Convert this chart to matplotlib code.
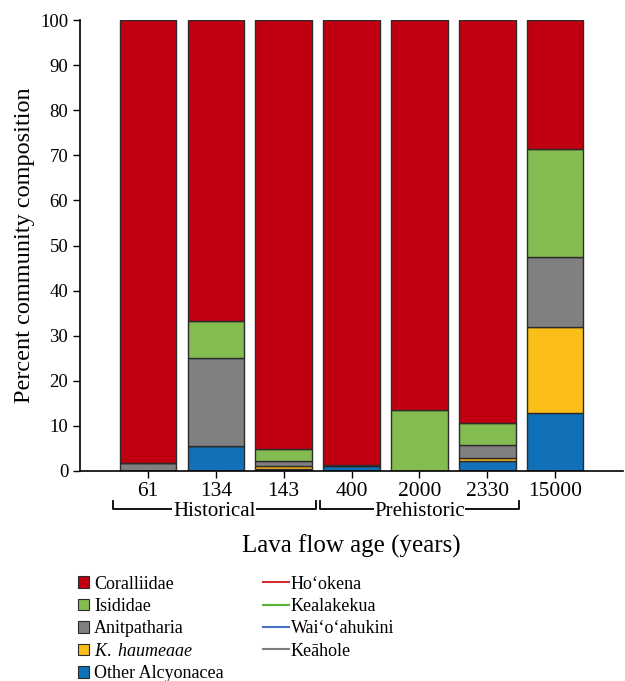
import matplotlib.pyplot as plt
from matplotlib.lines import Line2D
from matplotlib.patches import Patch
import numpy as np

plt.rcParams['font.family'] = ['Liberation Serif', 'DejaVu Serif']
plt.rcParams['mathtext.fontset'] = 'custom'
plt.rcParams['mathtext.it'] = 'Liberation Serif:italic'
plt.rcParams['mathtext.rm'] = 'Liberation Serif'

# Lava flow ages (years) and percent composition of each taxon
ages = ['61', '134', '143', '400', '2000', '2330', '15000']
other_alcyonacea = [0.0, 5.5, 0.4, 1.0, 0.0, 2.3, 12.8]
k_haumeaae = [0.0, 0.0, 0.6, 0.0, 0.0, 0.6, 19.1]
anitpatharia = [1.8, 19.5, 1.2, 0.4, 0.0, 2.8, 15.6]
isididae = [0.0, 8.3, 2.6, 0.0, 13.5, 4.9, 23.8]
coralliidae = [98.2, 66.7, 95.2, 98.6, 86.5, 89.4, 28.7]

taxa = ['Coralliidae', 'Isididae', 'Anitpatharia', 'K. haumeaae', 'Other Alcyonacea']
colors = {'Coralliidae': '#c00010', 'Isididae': '#84bc52', 'Anitpatharia': '#808080',
          'K. haumeaae': '#fbbd17', 'Other Alcyonacea': '#1070b8'}
stack = [('Other Alcyonacea', other_alcyonacea), ('K. haumeaae', k_haumeaae),
         ('Anitpatharia', anitpatharia), ('Isididae', isididae),
         ('Coralliidae', coralliidae)]

sites = ['Ho\u2018okena', 'Kealakekua', 'Wai\u2018o\u2018ahukini', 'Ke\u0101hole']
site_colors = ['#d03232', '#5cb336', '#4472c4', '#808080']

fig = plt.figure(figsize=(6.25, 6.81), dpi=100)
ax = fig.add_axes([0.128, 0.3084, 0.869, 0.6622])

x = np.arange(len(ages))
bottom = np.zeros(len(ages))
for name, vals in stack:
    ax.bar(x, vals, 0.83, bottom=bottom, color=colors[name],
           edgecolor='#2b2b2b', linewidth=1.0)
    bottom += np.array(vals)

ax.set_xlim(-1, 7)
ax.set_ylim(0, 100)
ax.set_yticks(np.arange(0, 101, 10))
ax.set_xticks(x)
ax.set_xticklabels(ages)
ax.tick_params(axis='both', direction='out', length=5, width=1)
ax.tick_params(axis='y', labelsize=13.5)
ax.tick_params(axis='x', labelsize=15.5, pad=3)
for s in ['top', 'right']:
    ax.spines[s].set_visible(False)
for s in ['left', 'bottom']:
    ax.spines[s].set_linewidth(1.2)

ax.set_ylabel('Percent community composition', fontsize=17.5, labelpad=4)
ax.set_xlabel('Lava flow age (years)', fontsize=18, labelpad=24)

# period brackets under the age labels
trans = ax.get_xaxis_transform()
for x0, x1, label in [(-0.52, 2.47, 'Historical'), (2.53, 5.47, 'Prehistoric')]:
    ax.plot([x0, x0, x1, x1], [-0.066, -0.085, -0.085, -0.066], color='black',
            lw=1.3, transform=trans, clip_on=False)
    ax.text((x0 + x1) / 2, -0.09, label, transform=trans, ha='center', va='center',
            fontsize=15, bbox=dict(facecolor='white', edgecolor='none', pad=0.5))

taxa_handles = [Patch(facecolor=colors[t], edgecolor='#2b2b2b', linewidth=0.8) for t in taxa]
taxa_labels = ['Coralliidae', 'Isididae', 'Anitpatharia', '$\\it{K.\\ haumeaae}$', 'Other Alcyonacea']
fig.legend(taxa_handles, taxa_labels, loc='upper left', bbox_to_anchor=(0.113, 0.1655),
           frameon=False, fontsize=13, handlelength=0.6, handleheight=0.6,
           handletextpad=0.3, labelspacing=0.3, borderaxespad=0)
site_handles = [Line2D([0], [0], color=c, lw=1.5) for c in site_colors]
fig.legend(site_handles, sites, loc='upper left', bbox_to_anchor=(0.409, 0.1655),
           frameon=False, fontsize=13, handlelength=1.45, handletextpad=0.1,
           labelspacing=0.3, borderaxespad=0)

fig.savefig('out.png', dpi=100)
